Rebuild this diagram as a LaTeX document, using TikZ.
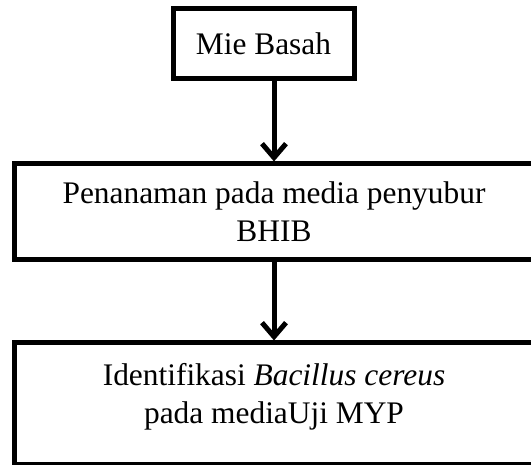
\documentclass[tikz,border=0pt]{standalone}
\usepackage{fontspec}
\setmainfont{Liberation Serif}
\usetikzlibrary{arrows.meta}

\tikzset{
    box/.style={draw=black, line width=5pt, fill=white, inner sep=0pt,
        align=center, font=\fontsize{31.4pt}{38pt}\selectfont},
    flow/.style={-{Straight Barb[length=14pt, width=24pt]}, line width=5pt}
}

\begin{document}
\begin{tikzpicture}[x=1pt, y=1pt]
        \clip (0,0) rectangle (531,-465);

        % ===== boxes =====
        \node[box, minimum width=181pt, minimum height=70pt] (mie) at (263.5,-44) {Mie Basah};
        \node[box, minimum width=520pt, minimum height=96pt] (tanam) at (274,-212)
            {Penanaman pada media penyubur\\ BHIB};
        \node[box, minimum width=520pt, minimum height=122pt] (uji) at (274,-404)
            {Identifikasi \textit{Bacillus cereus}\\ pada mediaUji MYP\\[-17pt]\mbox{}};

        % ===== arrows =====
        \draw[flow] (mie.south -| tanam.north) -- (tanam.north);
        \draw[flow] (tanam.south) -- (uji.north);
    \end{tikzpicture}
\end{document}
